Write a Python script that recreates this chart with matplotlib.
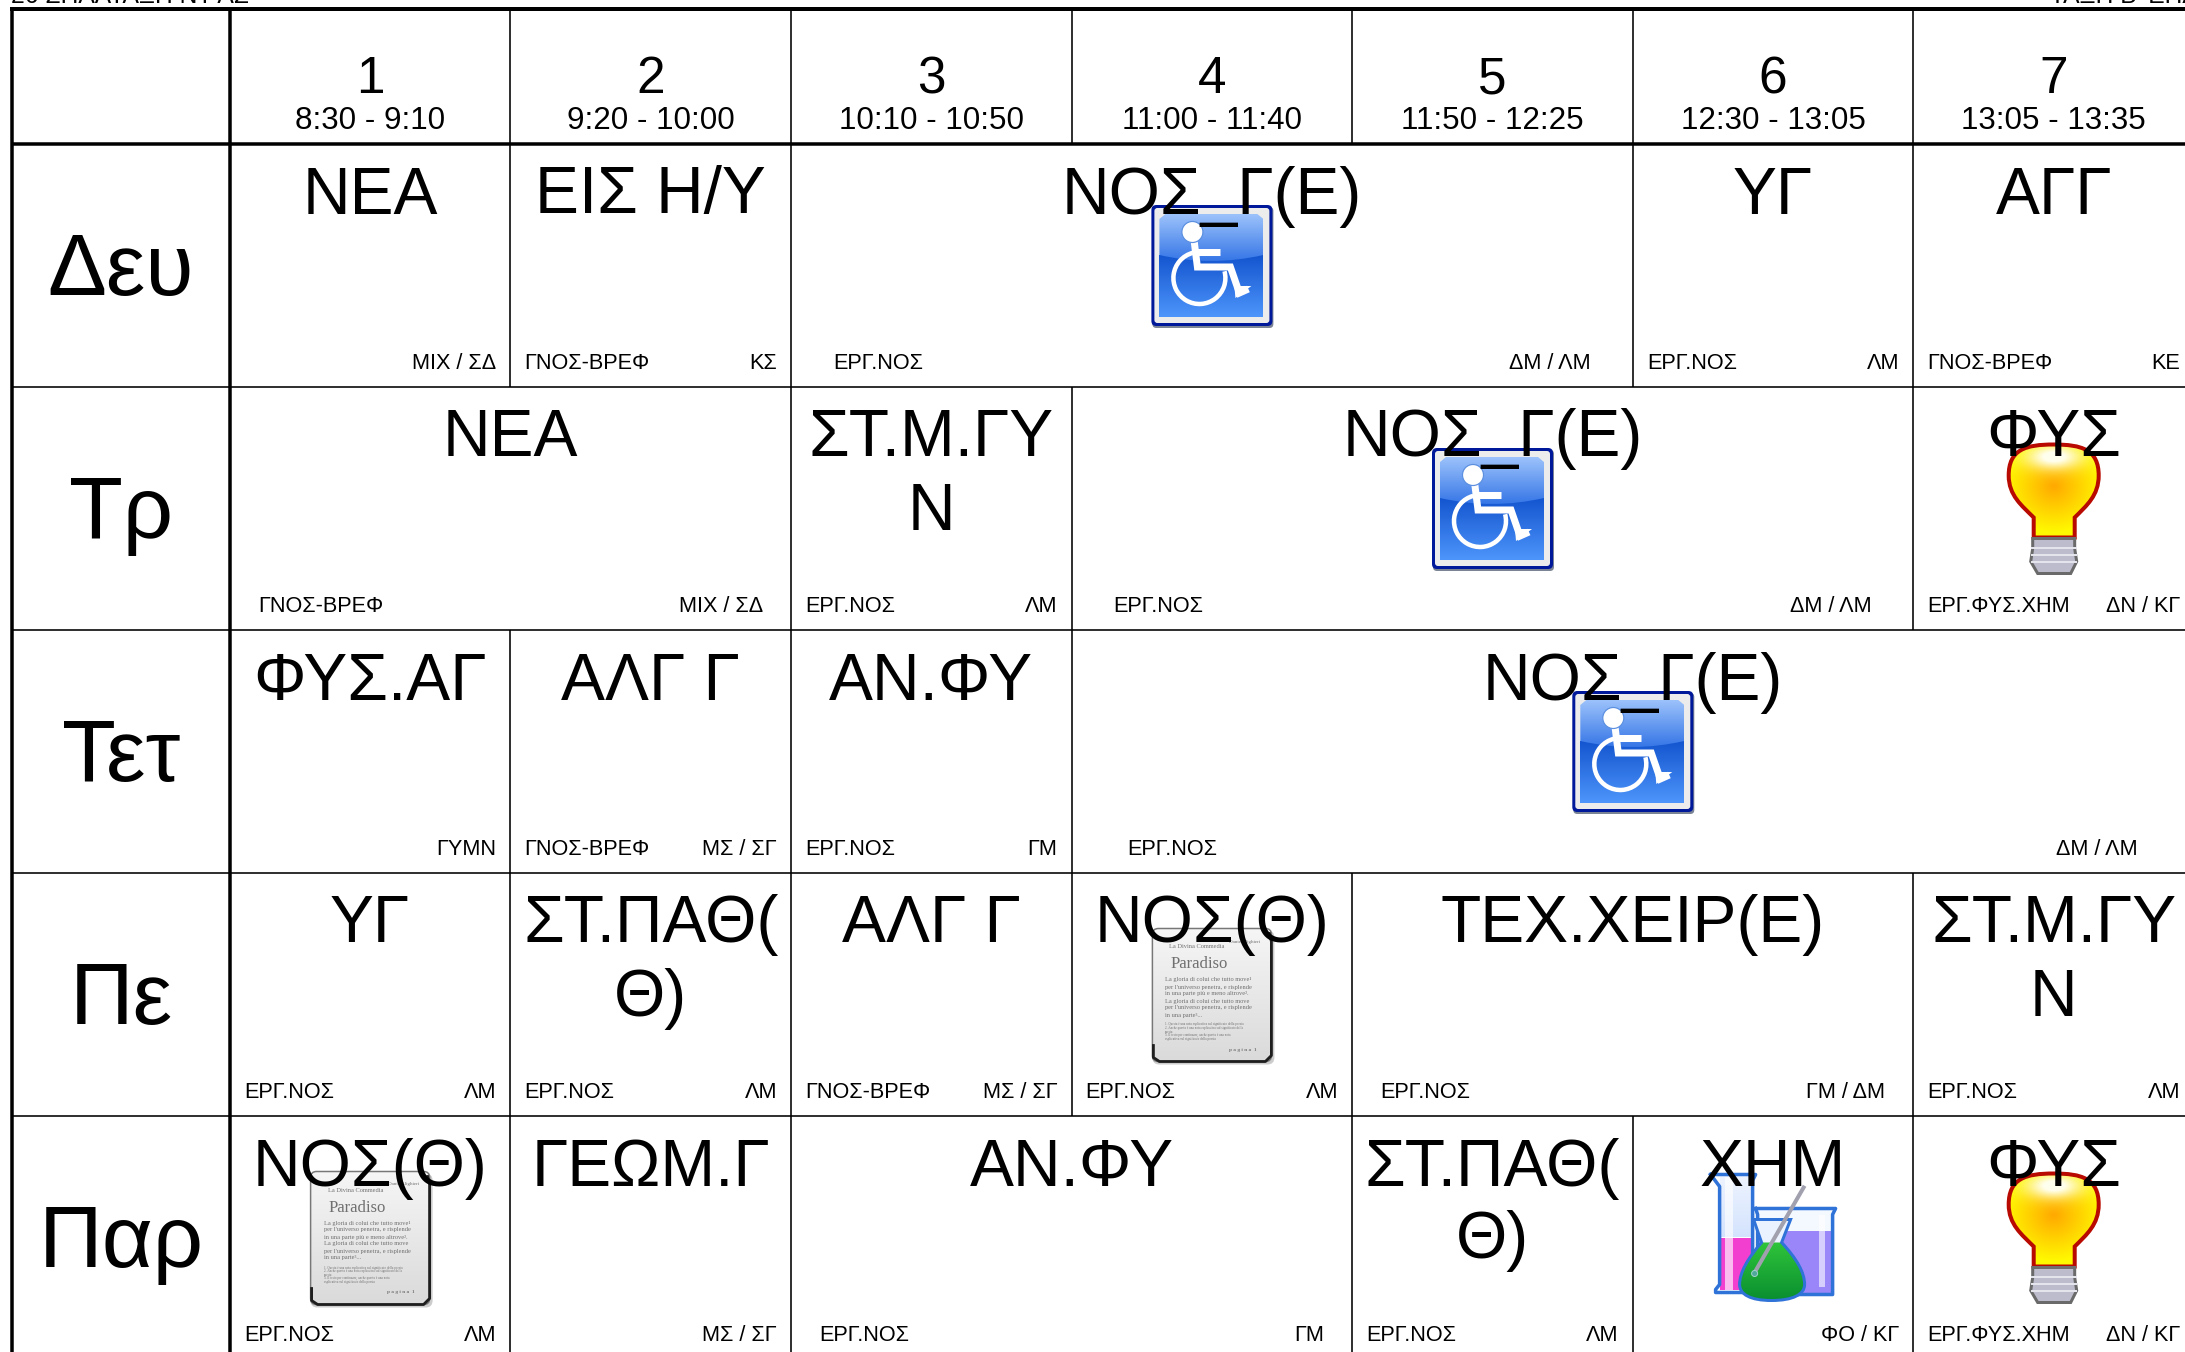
import numpy as np
import matplotlib
matplotlib.use('Agg')
import matplotlib.pyplot as plt
from matplotlib.patches import Arc, Circle, FancyBboxPatch, PathPatch, Polygon, Rectangle
from matplotlib.path import Path

plt.rcParams['font.family'] = ['Liberation Sans', 'DejaVu Sans']

days = ['Δευ', 'Τρ', 'Τετ', 'Πε', 'Παρ']
periods = ['1', '2', '3', '4', '5', '6', '7']
times = ['8:30 - 9:10', '9:20 - 10:00', '10:10 - 10:50', '11:00 - 11:40',
         '11:50 - 12:25', '12:30 - 13:05', '13:05 - 13:35']

mon_titles = ['ΝΕΑ', 'ΕΙΣ Η/Υ', 'ΝΟΣ_Γ(Ε)', 'ΥΓ', 'ΑΓΓ']
mon_spans = [1, 1, 3, 1, 1]
mon_rooms = ['', 'ΓΝΟΣ-ΒΡΕΦ', 'ΕΡΓ.ΝΟΣ', 'ΕΡΓ.ΝΟΣ', 'ΓΝΟΣ-ΒΡΕΦ']
mon_teachers = ['ΜΙΧ / ΣΔ', 'ΚΣ', 'ΔΜ / ΛΜ', 'ΛΜ', 'ΚΕ']
mon_icons = [None, None, 'wheel', None, None]

tue_titles = ['ΝΕΑ', 'ΣΤ.Μ.ΓΥ\nΝ', 'ΝΟΣ_Γ(Ε)', 'ΦΥΣ']
tue_spans = [2, 1, 3, 1]
tue_rooms = ['ΓΝΟΣ-ΒΡΕΦ', 'ΕΡΓ.ΝΟΣ', 'ΕΡΓ.ΝΟΣ', 'ΕΡΓ.ΦΥΣ.ΧΗΜ']
tue_teachers = ['ΜΙΧ / ΣΔ', 'ΛΜ', 'ΔΜ / ΛΜ', 'ΔΝ / ΚΓ']
tue_icons = [None, None, 'wheel', 'bulb']

wed_titles = ['ΦΥΣ.ΑΓ', 'ΑΛΓ Γ', 'ΑΝ.ΦΥ', 'ΝΟΣ_Γ(Ε)']
wed_spans = [1, 1, 1, 4]
wed_rooms = ['', 'ΓΝΟΣ-ΒΡΕΦ', 'ΕΡΓ.ΝΟΣ', 'ΕΡΓ.ΝΟΣ']
wed_teachers = ['ΓΥΜΝ', 'ΜΣ / ΣΓ', 'ΓΜ', 'ΔΜ / ΛΜ']
wed_icons = [None, None, None, 'wheel']

thu_titles = ['ΥΓ', 'ΣΤ.ΠΑΘ(\nΘ)', 'ΑΛΓ Γ', 'ΝΟΣ(Θ)', 'ΤΕΧ.ΧΕΙΡ(Ε)', 'ΣΤ.Μ.ΓΥ\nΝ']
thu_spans = [1, 1, 1, 1, 2, 1]
thu_rooms = ['ΕΡΓ.ΝΟΣ', 'ΕΡΓ.ΝΟΣ', 'ΓΝΟΣ-ΒΡΕΦ', 'ΕΡΓ.ΝΟΣ', 'ΕΡΓ.ΝΟΣ', 'ΕΡΓ.ΝΟΣ']
thu_teachers = ['ΛΜ', 'ΛΜ', 'ΜΣ / ΣΓ', 'ΛΜ', 'ΓΜ / ΔΜ', 'ΛΜ']
thu_icons = [None, None, None, 'book', None, None]

fri_titles = ['ΝΟΣ(Θ)', 'ΓΕΩΜ.Γ', 'ΑΝ.ΦΥ', 'ΣΤ.ΠΑΘ(\nΘ)', 'ΧΗΜ', 'ΦΥΣ']
fri_spans = [1, 1, 2, 1, 1, 1]
fri_rooms = ['ΕΡΓ.ΝΟΣ', '', 'ΕΡΓ.ΝΟΣ', 'ΕΡΓ.ΝΟΣ', '', 'ΕΡΓ.ΦΥΣ.ΧΗΜ']
fri_teachers = ['ΛΜ', 'ΜΣ / ΣΓ', 'ΓΜ', 'ΛΜ', 'ΦΟ / ΚΓ', 'ΔΝ / ΚΓ']
fri_icons = ['book', None, None, None, 'beakers', 'bulb']

header_left = '26 ΣΠΑΛΤΑΞΗ ΝΤ ΑΣ'
header_right = 'ΤΑΞΗ Β\' ΕΠΑΛ'

rows = [
    (mon_titles, mon_spans, mon_rooms, mon_teachers, mon_icons),
    (tue_titles, tue_spans, tue_rooms, tue_teachers, tue_icons),
    (wed_titles, wed_spans, wed_rooms, wed_teachers, wed_icons),
    (thu_titles, thu_spans, thu_rooms, thu_teachers, thu_icons),
    (fri_titles, fri_spans, fri_rooms, fri_teachers, fri_icons),
]

# layout, in pixels of the final image
GRID_LEFT = 11.5
GRID_TOP = 8.5
COL0 = 229.8
COL_W = 280.6
HEAD_Y = 143.5
ROW_H = 243.0

fig = plt.figure(figsize=(21.85, 13.52), dpi=100)
ax = fig.add_axes([0, 0, 1, 1])


def px(w):
    return w * 0.72


def grad(box, top, bottom, clip, z):
    # vertical gradient clipped to a patch
    n = 64
    top, bottom = np.array(matplotlib.colors.to_rgb(top)), np.array(matplotlib.colors.to_rgb(bottom))
    t = np.linspace(0, 1, n)[:, None, None]
    arr = top[None, None, :] * (1 - t) + bottom[None, None, :] * t
    im = ax.imshow(arr, extent=(box[0], box[2], box[3], box[1]), aspect='auto', zorder=z,
                   interpolation='bilinear')
    im.set_clip_path(clip)
    return im


def rounded(x0, y0, x1, y1, r, z, **kw):
    p = FancyBboxPatch((x0 + r, y0 + r), x1 - x0 - 2 * r, y1 - y0 - 2 * r,
                       boxstyle='round,pad=%f,rounding_size=%f' % (r, r), zorder=z, **kw)
    ax.add_patch(p)
    return p


def draw_wheel(cx, top):
    x0, y0 = cx - 60.5, top
    rounded(x0 + 1, y0 + 2, x0 + 122, y0 + 123, 4, 2.0, fc='#7b8494', ec='none')
    rounded(x0, y0, x0 + 121, y0 + 121, 5, 2.01, fc='#00189a', ec='none')
    rounded(x0 + 3, y0 + 3, x0 + 118, y0 + 118, 3, 2.02, fc='#ececec', ec='none')
    inner = Rectangle((x0 + 8, y0 + 9), 104, 103, fc='none', ec='none', zorder=2.03)
    ax.add_patch(inner)
    grad((x0 + 8, y0 + 50, x0 + 112, y0 + 112), '#1455cf', '#4d95fb', inner, 2.04)
    gloss = Path([(x0 + 8, y0 + 14), (x0 + 14, y0 + 9), (x0 + 106, y0 + 9), (x0 + 112, y0 + 14),
                  (x0 + 112, y0 + 50), (x0 + 60, y0 + 62), (x0 + 8, y0 + 50), (x0 + 8, y0 + 14)],
                 [Path.MOVETO, Path.LINETO, Path.LINETO, Path.LINETO,
                  Path.LINETO, Path.CURVE3, Path.CURVE3, Path.CLOSEPOLY])
    g = PathPatch(gloss, fc='none', ec='none', zorder=2.05)
    ax.add_patch(g)
    grad((x0 + 8, y0 + 9, x0 + 112, y0 + 58), '#9cc2fb', '#3273e6', g, 2.06)
    white = dict(color='white', lw=px(7), solid_capstyle='butt', solid_joinstyle='miter', zorder=2.1)
    ax.add_patch(Arc((x0 + 48, y0 + 73), 52, 52, theta1=-15, theta2=255, ec='white', lw=px(4.5), zorder=2.1))
    ax.plot([x0 + 42, x0 + 46, x0 + 79, x0 + 88, x0 + 97],
            [y0 + 30, y0 + 62, y0 + 62, y0 + 88, y0 + 84], **white)
    ax.plot([x0 + 45, x0 + 69], [y0 + 47, y0 + 47], **white)
    ax.add_patch(Polygon([(x0 + 83, y0 + 81), (x0 + 100, y0 + 81), (x0 + 84, y0 + 93)],
                         fc='white', ec='none', zorder=2.1))
    ax.add_patch(Circle((x0 + 41, y0 + 27), 10.5, fc='white', ec='#5b8fe0', lw=px(1.2), zorder=2.11))


def draw_bulb(cx, top):
    x0, y0 = cx - 46, top
    verts = [(46, 1), (18, 1), (1, 6), (1, 32), (1, 52), (14, 62), (26, 74), (26, 94), (67, 94), (67, 74),
             (79, 62), (91, 52), (91, 32), (91, 6), (74, 1), (46, 1), (46, 1)]
    codes = [Path.MOVETO, Path.CURVE4, Path.CURVE4, Path.CURVE4, Path.CURVE4, Path.CURVE4, Path.CURVE4,
             Path.LINETO, Path.LINETO, Path.LINETO, Path.CURVE4, Path.CURVE4, Path.CURVE4,
             Path.CURVE4, Path.CURVE4, Path.CURVE4, Path.CLOSEPOLY]
    path = Path([(x0 + a, y0 + b) for a, b in verts], codes)
    glass = PathPatch(path, fc='none', ec='none', zorder=2.0)
    ax.add_patch(glass)
    yy, xx = np.mgrid[0:1:96j, 0:1:96j]
    r = np.clip(np.hypot((xx - 0.5) / 0.55, (yy - 0.45) / 0.5), 0, 1)[:, :, None]
    arr = np.array([1.0, 0.66, 0.0]) * (1 - r) + np.array([1.0, 0.98, 0.0]) * r
    # soft white shine at the top of the glass
    shine = np.clip(1.15 * np.exp(-((xx - 0.5) / 0.3) ** 2 - ((yy - 0.14) / 0.13) ** 2), 0, 1)[:, :, None]
    arr = arr * (1 - shine) + np.array([1.0, 1.0, 0.93]) * shine
    im = ax.imshow(arr, extent=(x0, x0 + 92, y0 + 95, y0), aspect='auto', zorder=2.01)
    im.set_clip_path(glass)
    ax.add_patch(PathPatch(path, fc='none', ec='#b80a00', lw=px(4), zorder=2.05))
    ax.add_patch(Rectangle((x0 + 24, y0 + 93), 44, 3, fc='#6f6f6f', ec='none', zorder=2.06))
    ax.add_patch(Polygon([(x0 + 25, y0 + 95), (x0 + 67, y0 + 95), (x0 + 67, y0 + 105), (x0 + 69, y0 + 118),
                          (x0 + 63, y0 + 130), (x0 + 30, y0 + 130), (x0 + 23, y0 + 118), (x0 + 25, y0 + 105)],
                         fc='#bcbccc', ec='#6a6a6a', lw=px(3), zorder=2.05))
    for dy in (104, 111, 118):
        ax.plot([x0 + 24, x0 + 68], [y0 + dy, y0 + dy], color='#e4e4ec', lw=px(2), zorder=2.07)


def draw_book(cx, top):
    x0, y0 = cx - 60.5, top
    rounded(x0 + 1, y0 + 3, x0 + 123, y0 + 137, 7, 2.0, fc='#9a9a9a', ec='none', alpha=0.5)
    page = rounded(x0 + 1, y0 + 1, x0 + 120, y0 + 134, 6, 2.01, fc='none', ec='none')
    grad((x0, y0, x0 + 121, y0 + 135), '#f6f6f6', '#dadada', page, 2.02)
    rounded(x0 + 1, y0 + 1, x0 + 120, y0 + 134, 6, 2.05, fc='none', ec='#777777', lw=px(1.5))
    # the frame is heavier along the bottom and right sides
    ax.plot([x0 + 118, x0 + 120, x0 + 120, x0 + 114, x0 + 8, x0 + 2, x0 + 2],
            [y0 + 6, y0 + 14, y0 + 128, y0 + 134, y0 + 134, y0 + 130, y0 + 118],
            color='#1e1e1e', lw=px(2.8), zorder=2.06)
    serif = dict(family='Liberation Serif', zorder=2.1, color='#707070', va='baseline', ha='left')
    ax.text(x0 + 18, y0 + 21, 'La Divina Commedia', fontsize=4.6, **serif)
    ax.text(x0 + 78, y0 + 15, 'Dante Alighieri', fontsize=3.6, **serif)
    ax.text(x0 + 19, y0 + 41, 'Paradiso', fontsize=12, **serif)
    body = ['La gloria di colui che tutto move¹', 'per l\'universo penetra, e risplende',
            'in una parte più e meno altrove².', 'La gloria di colui che tutto move',
            'per l\'universo penetra, e risplende', 'in una parte³...']
    for i, line in enumerate(body):
        ax.text(x0 + 14, y0 + 54 + 7 * i, line, fontsize=4.6, **serif)
    notes = ['1. Questa è una nota esplicativa sul significato della poesia',
             '2. Anche questa è una nota esplicativa sul significato della',
             'poesia', '3. Il testo per continuare, anche questa è una nota',
             'esplicativa sul significato della poesia']
    for i, line in enumerate(notes):
        ax.text(x0 + 14, y0 + 98 + 3.6 * i, line, fontsize=2.35, **serif)
    ax.text(x0 + 105, y0 + 123, 'p a g i n a  1', fontsize=3.8, fontweight='bold',
            family='Liberation Serif', color='#777777', ha='right', zorder=2.1)


def draw_beakers(cx, top):
    x0, y0 = cx - 62.5, top
    blue = '#2f72d8'
    # tall cylinder
    tall = Rectangle((x0 + 9, y0 + 2), 34, 115, fc='none', ec='none', zorder=2.0)
    ax.add_patch(tall)
    grad((x0 + 9, y0 + 2, x0 + 43, y0 + 65), '#eef4ff', '#d4e3fd', tall, 2.01)
    ax.add_patch(Rectangle((x0 + 9, y0 + 65), 34, 52, fc='#f23fd0', ec='none', zorder=2.02))
    ax.add_patch(Rectangle((x0 + 14, y0 + 4), 8, 113, fc='white', alpha=0.65, ec='none', zorder=2.03))
    ax.plot([x0 + 0, x0 + 9, x0 + 9, x0 + 5, x0 + 5, x0 + 45, x0 + 45, x0 + 42, x0 + 42, x0 + 45, x0 + 0],
            [y0 + 2, y0 + 14, y0 + 112, y0 + 117, y0 + 120, y0 + 120, y0 + 117, y0 + 112, y0 + 8, y0 + 2, y0 + 2],
            color=blue, lw=px(3.5), zorder=2.04)
    # wide beaker
    ax.add_patch(Rectangle((x0 + 47, y0 + 37), 75, 84, fc='#f4f8ff', ec='none', zorder=2.05))
    ax.add_patch(Rectangle((x0 + 47, y0 + 58), 75, 63, fc='#9a86f8', ec='none', zorder=2.06))
    ax.add_patch(Rectangle((x0 + 108, y0 + 42), 6, 72, fc='white', alpha=0.6, ec='none', zorder=2.07))
    ax.plot([x0 + 45, x0 + 125, x0 + 122, x0 + 122, x0 + 47, x0 + 47, x0 + 45],
            [y0 + 36, y0 + 36, y0 + 42, y0 + 122, y0 + 122, y0 + 42, y0 + 36],
            color=blue, lw=px(3.5), zorder=2.08)
    # flask
    verts = [(43, 47), (80, 47), (71, 70), (86, 86), (94, 100), (94, 112), (94, 122), (82, 128), (61, 128),
             (40, 128), (29, 122), (29, 112), (29, 100), (37, 86), (51, 70), (43, 47), (43, 47)]
    codes = [Path.MOVETO, Path.LINETO, Path.LINETO] + [Path.CURVE4] * 12 + [Path.LINETO, Path.CLOSEPOLY]
    path = Path([(x0 + a, y0 + b) for a, b in verts], codes)
    ax.add_patch(PathPatch(path, fc='#eaf2ff', ec='none', zorder=2.1))
    body = Path(path.vertices[2:15], [Path.MOVETO] + [Path.CURVE4] * 12)
    green = PathPatch(body, fc='none', ec='none', zorder=2.11)
    ax.add_patch(green)
    grad((x0 + 25, y0 + 70, x0 + 97, y0 + 128), '#2fc43a', '#0a8f30', green, 2.12)
    ax.add_patch(PathPatch(path, fc='none', ec=blue, lw=px(3), zorder=2.13))
    ax.plot([x0 + 93, x0 + 44], [y0 + 15, y0 + 100], color='#a0a0ae', lw=px(4), zorder=2.14)
    ax.add_patch(Circle((x0 + 44, y0 + 101), 3, fc='#4fa89a', ec='#9fd0c8', lw=px(1), zorder=2.15))


icon_funcs = {'wheel': (draw_wheel, 61.5), 'bulb': (draw_bulb, 57),
              'book': (draw_book, 55), 'beakers': (draw_beakers, 57)}

line_kw = dict(color='black', solid_capstyle='butt', zorder=4)
n_cols = len(periods)
right_edge = COL0 + COL_W * n_cols

# header
ax.text(11, 3, header_left, fontsize=17.7, ha='left', va='baseline', zorder=3)
ax.text(2050, 3, header_right, fontsize=17.7, ha='left', va='baseline', zorder=3)
for i, (p, t) in enumerate(zip(periods, times)):
    xc = COL0 + COL_W * (i + 0.5)
    ax.text(xc, 93, p, fontsize=37, ha='center', va='baseline', zorder=3)
    ax.text(xc, 129, t, fontsize=22.6, ha='center', va='baseline', zorder=3)
    ax.plot([COL0 + COL_W * i] * 2, [GRID_TOP, HEAD_Y], lw=px(1.6), **line_kw)

# body
for r, (titles, spans, room_list, teachers, icons) in enumerate(rows):
    y_top = HEAD_Y + ROW_H * r
    ax.text(121, y_top + 151.5, days[r], fontsize=63.5, ha='center', va='baseline', zorder=3)
    col = 0
    for title, span, room, teacher, icon in zip(titles, spans, room_list, teachers, icons):
        left = COL0 + COL_W * col
        right = left + COL_W * span
        xc = (left + right) / 2
        pad = 14 * span
        if icon:
            func, off = icon_funcs[icon]
            func(xc, y_top + off)
        for k, line in enumerate(title.split('\n')):
            ax.text(xc, y_top + 70 + 73 * k, line, fontsize=47.4, ha='center', va='baseline', zorder=3)
        ax.text(left + pad, y_top + 225.5, room, fontsize=15.6, ha='left', va='baseline', zorder=3)
        ax.text(right - pad, y_top + 225.5, teacher, fontsize=15.6, ha='right', va='baseline', zorder=3)
        ax.plot([left, left], [y_top, y_top + ROW_H], lw=px(1.6), **line_kw)
        col += span
    if r > 0:
        ax.plot([GRID_LEFT, right_edge], [y_top, y_top], lw=px(1.6), **line_kw)

# heavy grid lines
ax.plot([GRID_LEFT - 2, right_edge], [GRID_TOP, GRID_TOP], lw=px(4), **line_kw)
ax.plot([GRID_LEFT, right_edge], [HEAD_Y, HEAD_Y], lw=px(3.5), **line_kw)
ax.plot([GRID_LEFT, GRID_LEFT], [GRID_TOP, 1352], lw=px(3.5), **line_kw)
ax.plot([COL0, COL0], [GRID_TOP, 1352], lw=px(3.5), **line_kw)

ax.set_xlim(0, 2185)
ax.set_ylim(1352, 0)
ax.axis('off')
fig.savefig('out.png', dpi=100, facecolor='white')
